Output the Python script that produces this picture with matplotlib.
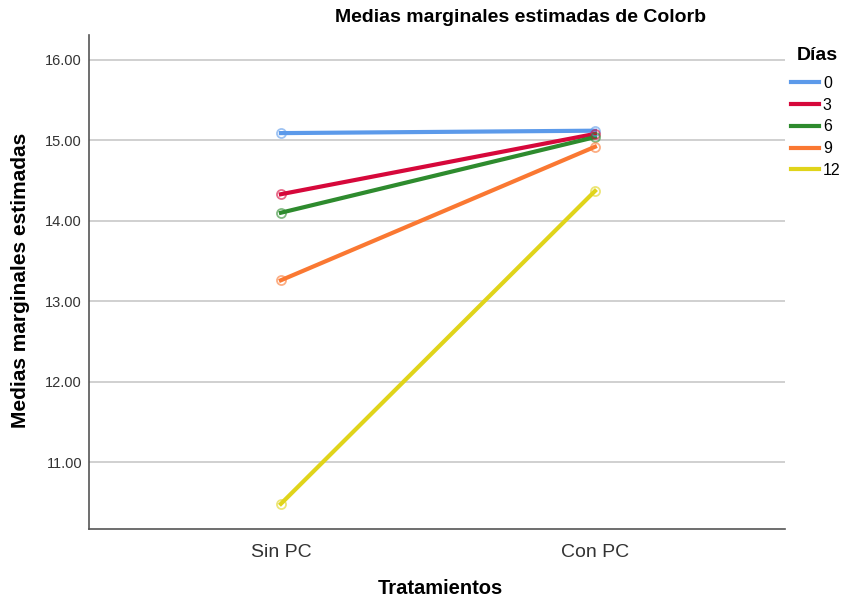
import matplotlib
matplotlib.use('Agg')
import matplotlib.pyplot as plt

plt.rcParams['font.family'] = ['Liberation Sans', 'DejaVu Sans']

# Medias marginales por tratamiento y día
tratamientos = ['Sin PC', 'Con PC']
dias = ['0', '3', '6', '9', '12']
medias_0 = [15.09, 15.12]
medias_3 = [14.33, 15.08]
medias_6 = [14.10, 15.04]
medias_9 = [13.26, 14.92]
medias_12 = [10.48, 14.37]
series = [medias_0, medias_3, medias_6, medias_9, medias_12]
colores = ['#5C9AEA', '#D6083B', '#2E8B2E', '#FA7832', '#E0D41A']

W, H = 845, 598
fig = plt.figure(figsize=(W / 100, H / 100), dpi=100)
ax = fig.add_axes([89 / W, 1 - 529 / H, 696 / W, 494 / H])

x = list(range(len(tratamientos)))
for dia, vals, col in zip(dias, series, colores):
    ax.plot(x, vals, color=col, lw=3, label=dia, zorder=3)
    ax.plot(x, vals, ls='none', marker='o', ms=6.5, mfc='none', mec=col,
            mew=1.3, alpha=0.6, zorder=4)

ax.set_xlim(-0.611, 1.605)
ax.set_ylim(10.167, 16.31)
ax.set_xticks(x)
ax.set_xticklabels(tratamientos, fontsize=14, color='#333333')
ax.set_yticks([11, 12, 13, 14, 15, 16])
ax.set_yticklabels([f'{v:.2f}' for v in [11, 12, 13, 14, 15, 16]],
                   fontsize=10.5, color='#333333')
ax.tick_params(axis='both', length=0)
ax.tick_params(axis='x', pad=11)
ax.tick_params(axis='y', pad=5)
ax.grid(axis='y', color='#c8c8c8', lw=1.2, zorder=0)
ax.set_axisbelow(True)

for s in ['top', 'right']:
    ax.spines[s].set_visible(False)
for s in ['left', 'bottom']:
    ax.spines[s].set_color('#555555')
    ax.spines[s].set_linewidth(1.2)

fig.text(521 / W, 1 - 18 / H, 'Medias marginales estimadas de Colorb',
         fontsize=14, fontweight='bold', ha='center', va='center')
fig.text(21 / W, 1 - 280 / H, 'Medias marginales estimadas', fontsize=15,
         fontweight='bold', ha='center', va='center', rotation=90)
fig.text(440 / W, 1 - 588 / H, 'Tratamientos', fontsize=14.5,
         fontweight='bold', ha='center', va='center')

# Leyenda de días
fig.text(817 / W, 1 - 55 / H, 'Días', fontsize=14, fontweight='bold',
         ha='center', va='center')
leg = fig.legend(loc='upper left', bbox_to_anchor=(791 / W, 1 - 76 / H),
                 frameon=False, fontsize=11.5, handlelength=1.75,
                 handletextpad=0.25, labelspacing=0.42, borderpad=0,
                 borderaxespad=0)

fig.savefig('out.png', dpi=100)
